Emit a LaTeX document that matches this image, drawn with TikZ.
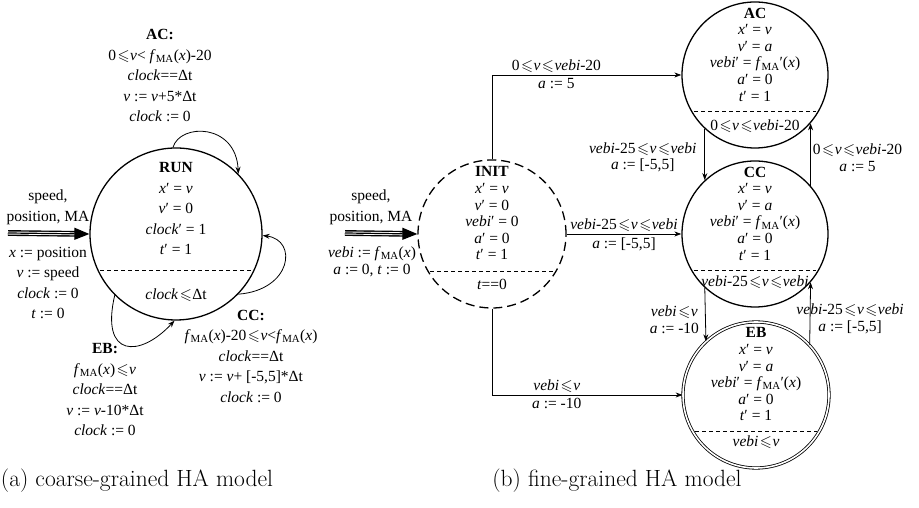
\documentclass[tikz,border=0pt]{standalone}
\usepackage{fontspec}
\usepackage{amssymb}
\newfontfamily\tnr{Liberation Serif}
\usetikzlibrary{arrows.meta,positioning,calc}

\newcommand{\sle}{\kern1.5pt$\leqslant$\kern0.5pt}
\newcommand{\fma}{\textit{f}\textsubscript{MA}}

\begin{document}
\begin{tikzpicture}[
    x=1pt, y=1pt,
    mode/.style={circle, draw=black, line width=1.3pt, minimum size=146pt, inner sep=0pt},
    initmode/.style={mode, dash pattern=on 9pt off 5pt},
    ebmode/.style={mode, double, line width=0.8pt, double distance=1.6pt},
    txt/.style={font=\tnr\fontsize{15.5}{16.6}\selectfont, align=center, inner sep=0pt},
    wtxt/.style={txt, font=\tnr\fontsize{15.5}{20.5}\selectfont},
    sep/.style={dash pattern=on 4pt off 3pt, line width=0.7pt, shorten <=3pt, shorten >=3pt},
    trans/.style={draw, line width=0.8pt, -{Stealth[length=7pt, width=5pt]}},
    entry/.style={double, double distance=3pt, line width=1.4pt, shorten >=13pt},
    entrytip/.style={line width=1.2pt, -{Triangle[length=15pt, width=12pt]}},
    captxt/.style={font=\fontsize{23.5}{28}\selectfont, inner sep=0pt}
]
\useasboundingbox (0,0) rectangle (919,508);

% (a) coarse-grained model
\node[mode, minimum size=172pt] (run) at (176,274) {};
\node[wtxt] (runtxt) at ([yshift=25pt]run.center) {\textbf{RUN}\\ \textit{x}′ = \textit{v}\\ \textit{v}′ = 0\\ \textit{clock}′ = 1\\ \textit{t}′ = 1};
\draw[sep] (run.205) -- (run.335);
\node[wtxt] (runinv) at ([yshift=-61pt]run.center) {\textit{clock}\sle Δt};

\coordinate (runin) at (8,275);
\draw[entry] (runin) -- (run.west);
\draw[entrytip] (runin) -- (run.west);
\node[wtxt] (runspd) at (48,300.5) {speed,\\position, MA};
\node[wtxt] (runset) at (48,225) {\textit{x} := position\\ \textit{v} := speed\\ \textit{clock} := 0\\ \textit{t} := 0};

\draw[trans] (run.92) .. controls (180,385) and (236,385) .. (run.44);
\node[wtxt] (aclbl) at (160,432.5) {\textbf{AC:}\\ 0\sle\textit{v}< \fma(\textit{x})-20\\ \textit{clock}==Δt\\ \textit{v} := \textit{v}+5*Δt\\ \textit{clock} := 0};

\draw[trans] (run.-44) .. controls (292,218) and (298,268) .. (run.-1);
\node[wtxt] (cclbl) at (251,152) {\textbf{CC:}\\ \fma(\textit{x})-20\sle\textit{v}<\fma(\textit{x})\\ \textit{clock}==Δt\\ \textit{v} := \textit{v}+ [-5,5]*Δt\\ \textit{clock} := 0};

\draw[trans] (run.225) .. controls (100,150) and (140,150) .. (run.269);
\node[wtxt] (eblbl) at (105,118) {\textbf{EB:}\\ \fma(\textit{x})\sle\textit{v}\\ \textit{clock}==Δt\\ \textit{v} := \textit{v}-10*Δt\\ \textit{clock} := 0};

\node[captxt] (capa) at (137,27) {(a) coarse-grained HA model};

% (b) fine-grained model
\node[initmode, minimum size=148pt] (init) at (492,274) {};
\node[txt] (inittxt) at ([yshift=20.5pt]init.center) {\textbf{INIT}\\ \textit{x}′ = \textit{v}\\ \textit{v}′ = 0\\ \textit{vebi}′ = 0\\ \textit{a}′ = 0\\ \textit{t}′ = 1};
\draw[sep] (init.210) -- (init.330);
\node[txt] (initinv) at ([yshift=-50pt]init.center) {\textit{t}==0};

\node[mode] (ac) at (755,433) {};
\node[txt] (actxt) at ([yshift=20.5pt]ac.center) {\textbf{AC}\\ \textit{x}′ = \textit{v}\\ \textit{v}′ = \textit{a}\\ \textit{vebi}′ = \fma′(\textit{x})\\ \textit{a}′ = 0\\ \textit{t}′ = 1};
\draw[sep] (ac.210) -- (ac.330);
\node[txt] (acinv) at ([yshift=-51pt]ac.center) {0\sle\textit{v}\sle\textit{vebi}-20};

\node[mode] (cc) at (755,274) {};
\node[txt] (cctxt) at ([yshift=20.5pt]cc.center) {\textbf{CC}\\ \textit{x}′ = \textit{v}\\ \textit{v}′ = \textit{a}\\ \textit{vebi}′ = \fma′(\textit{x})\\ \textit{a}′ = 0\\ \textit{t}′ = 1};
\draw[sep] (cc.210) -- (cc.330);
\node[txt] (ccinv) at ([yshift=-48pt]cc.center) {\textit{vebi}-25\sle\textit{v}\sle\textit{vebi}};

\node[ebmode] (eb) at (756,113) {};
\node[txt] (ebtxt) at ([yshift=20.5pt]eb.center) {\textbf{EB}\\ \textit{x}′ = \textit{v}\\ \textit{v}′ = \textit{a}\\ \textit{vebi}′ = \fma′(\textit{x})\\ \textit{a}′ = 0\\ \textit{t}′ = 1};
\draw[sep] (eb.210) -- (eb.330);
\node[txt] (ebinv) at ([yshift=-47pt]eb.center) {\textit{vebi}\sle\textit{v}};

\coordinate (initin) at (345,275);
\draw[entry] (initin) -- (init.west);
\draw[entrytip] (initin) -- (init.west);
\node[wtxt] (initspd) at (371,300.5) {speed,\\position, MA};
\node[txt, font=\tnr\fontsize{15.5}{17}\selectfont] (initset) at (372,246.5) {\textit{vebi} := \fma(\textit{x})\\ \textit{a} := 0, \textit{t} := 0};

\draw[trans] (init.north) |- (ac.west)
  node[pos=0.67, above=2pt, txt] {0\sle\textit{v}\sle\textit{vebi}-20}
  node[pos=0.67, below=3pt, txt] {\textit{a} := 5};
\draw[trans] (init.east) -- (cc.west)
  node[midway, above=2pt, txt] {\textit{vebi}-25\sle\textit{v}\sle\textit{vebi}}
  node[midway, below=3pt, txt] {\textit{a} := [-5,5]};
\draw[trans] (init.south) |- (eb.west)
  node[pos=0.67, above=2pt, txt] {\textit{vebi}\sle\textit{v}}
  node[pos=0.67, below=3pt, txt] {\textit{a} := -10};

\draw[trans] (ac.227) -- (cc.133)
  node[midway, left=8pt, yshift=-3pt, txt] {\textit{vebi}-25\sle\textit{v}\sle\textit{vebi}\\ \textit{a} := [-5,5]};
\draw[trans] (cc.41) -- (ac.319)
  node[midway, right=2pt, yshift=-3pt, txt] {0\sle\textit{v}\sle\textit{vebi}-20\\ \textit{a} := 5};
\draw[trans] (cc.227) -- (eb.133)
  node[midway, left=6pt, yshift=-5pt, txt] {\textit{vebi}\sle\textit{v}\\ \textit{a} := -10};
\draw[trans] (eb.43) -- (cc.319)
  node[midway, xshift=40pt, yshift=-5pt, txt] {\textit{vebi}-25\sle\textit{v}\sle\textit{vebi}\\ \textit{a} := [-5,5]};

\node[captxt] (capb) at (617,27) {(b) fine-grained HA model};

\end{tikzpicture}
\end{document}
